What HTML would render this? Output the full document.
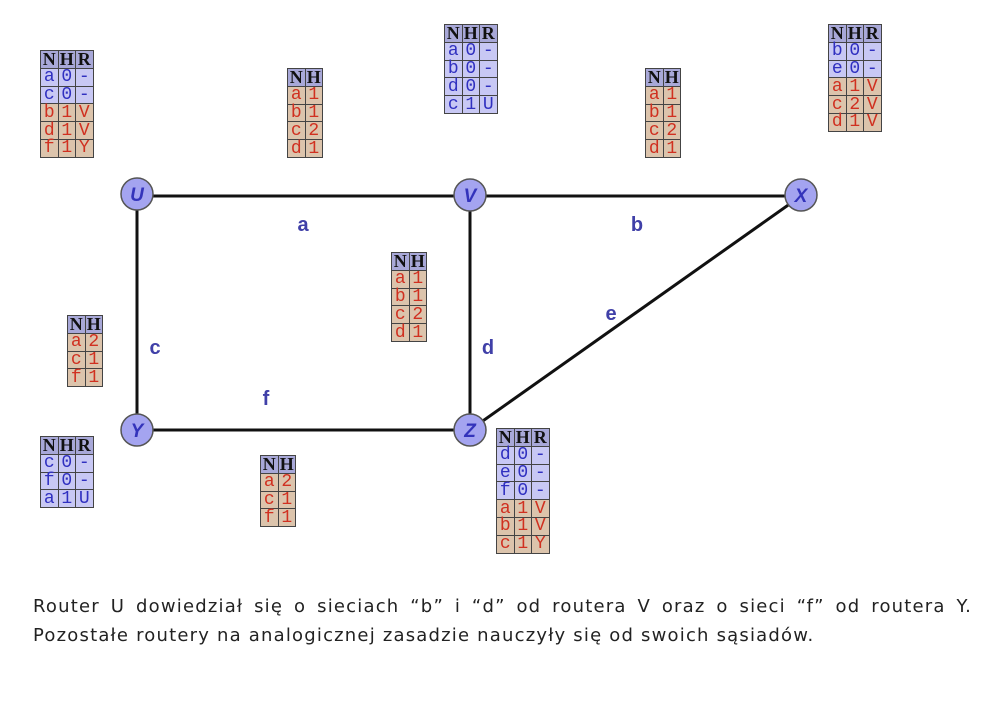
<!DOCTYPE html>
<html><head><meta charset="utf-8"><style>
body{margin:0;background:#fff;width:1000px;height:703px;position:relative;overflow:hidden;font-family:"Liberation Sans",sans-serif}
table{position:absolute;border-collapse:collapse;border:1px solid #555}
td{width:16.5px;height:16.8px;padding:0;border:1px solid #444;font-family:"Liberation Mono",monospace;font-size:18px;line-height:16px;text-align:center}
td.h{background:#a8a8d8;color:#111;font-weight:bold;font-family:"Liberation Serif",serif}
td.b{background:#c8c8f4;color:#3030c0}
td.r{background:#dcc4ac;color:#d03020}
.t{position:absolute;font-family:"DejaVu Sans",sans-serif;font-size:18px;color:#222;left:33px;letter-spacing:1.2px;white-space:nowrap}
</style></head><body>
<svg width="1000" height="703" style="position:absolute;left:0;top:0">
<g stroke="#111" stroke-width="3" fill="none">
<line x1="137" y1="196" x2="801" y2="196"/>
<line x1="137" y1="196" x2="137" y2="430"/>
<line x1="470" y1="196" x2="470" y2="430"/>
<line x1="137" y1="430" x2="470" y2="430"/>
<line x1="470" y1="430" x2="801" y2="196"/>
</g>
<g fill="#a4a4f0" stroke="#555" stroke-width="1.5">
<circle cx="137" cy="194" r="16"/><circle cx="470" cy="195" r="16"/><circle cx="801" cy="195" r="16"/>
<circle cx="137" cy="430" r="16"/><circle cx="470" cy="430" r="16"/>
</g>
<g font-family="Liberation Sans" font-style="italic" font-weight="bold" font-size="19" fill="#3333bb" text-anchor="middle">
<text x="137" y="201">U</text><text x="470" y="202">V</text><text x="801" y="202">X</text>
<text x="137" y="437">Y</text><text x="470" y="437">Z</text>
</g>
<g font-family="Liberation Sans" font-weight="bold" font-size="20" fill="#4040a8" text-anchor="middle">
<text x="303" y="231">a</text><text x="637" y="231">b</text><text x="155" y="354">c</text>
<text x="488" y="354">d</text><text x="611" y="320">e</text><text x="266" y="405">f</text>
</g>
</svg>
<table style="left:40px;top:50px"><tr><td class="h">N</td><td class="h">H</td><td class="h">R</td></tr>
<tr><td class="b">a</td><td class="b">0</td><td class="b">-</td></tr><tr><td class="b">c</td><td class="b">0</td><td class="b">-</td></tr>
<tr><td class="r">b</td><td class="r">1</td><td class="r">V</td></tr><tr><td class="r">d</td><td class="r">1</td><td class="r">V</td></tr><tr><td class="r">f</td><td class="r">1</td><td class="r">Y</td></tr></table>
<table style="left:287px;top:68px"><tr><td class="h">N</td><td class="h">H</td></tr>
<tr><td class="r">a</td><td class="r">1</td></tr><tr><td class="r">b</td><td class="r">1</td></tr><tr><td class="r">c</td><td class="r">2</td></tr><tr><td class="r">d</td><td class="r">1</td></tr></table>
<table style="left:444px;top:24px"><tr><td class="h">N</td><td class="h">H</td><td class="h">R</td></tr>
<tr><td class="b">a</td><td class="b">0</td><td class="b">-</td></tr><tr><td class="b">b</td><td class="b">0</td><td class="b">-</td></tr><tr><td class="b">d</td><td class="b">0</td><td class="b">-</td></tr><tr><td class="b">c</td><td class="b">1</td><td class="b">U</td></tr></table>
<table style="left:645px;top:68px"><tr><td class="h">N</td><td class="h">H</td></tr>
<tr><td class="r">a</td><td class="r">1</td></tr><tr><td class="r">b</td><td class="r">1</td></tr><tr><td class="r">c</td><td class="r">2</td></tr><tr><td class="r">d</td><td class="r">1</td></tr></table>
<table style="left:828px;top:24px"><tr><td class="h">N</td><td class="h">H</td><td class="h">R</td></tr>
<tr><td class="b">b</td><td class="b">0</td><td class="b">-</td></tr><tr><td class="b">e</td><td class="b">0</td><td class="b">-</td></tr>
<tr><td class="r">a</td><td class="r">1</td><td class="r">V</td></tr><tr><td class="r">c</td><td class="r">2</td><td class="r">V</td></tr><tr><td class="r">d</td><td class="r">1</td><td class="r">V</td></tr></table>
<table style="left:391px;top:252px"><tr><td class="h">N</td><td class="h">H</td></tr>
<tr><td class="r">a</td><td class="r">1</td></tr><tr><td class="r">b</td><td class="r">1</td></tr><tr><td class="r">c</td><td class="r">2</td></tr><tr><td class="r">d</td><td class="r">1</td></tr></table>
<table style="left:67px;top:315px"><tr><td class="h">N</td><td class="h">H</td></tr>
<tr><td class="r">a</td><td class="r">2</td></tr><tr><td class="r">c</td><td class="r">1</td></tr><tr><td class="r">f</td><td class="r">1</td></tr></table>
<table style="left:40px;top:436px"><tr><td class="h">N</td><td class="h">H</td><td class="h">R</td></tr>
<tr><td class="b">c</td><td class="b">0</td><td class="b">-</td></tr><tr><td class="b">f</td><td class="b">0</td><td class="b">-</td></tr><tr><td class="b">a</td><td class="b">1</td><td class="b">U</td></tr></table>
<table style="left:260px;top:455px"><tr><td class="h">N</td><td class="h">H</td></tr>
<tr><td class="r">a</td><td class="r">2</td></tr><tr><td class="r">c</td><td class="r">1</td></tr><tr><td class="r">f</td><td class="r">1</td></tr></table>
<table style="left:496px;top:428px"><tr><td class="h">N</td><td class="h">H</td><td class="h">R</td></tr>
<tr><td class="b">d</td><td class="b">0</td><td class="b">-</td></tr><tr><td class="b">e</td><td class="b">0</td><td class="b">-</td></tr><tr><td class="b">f</td><td class="b">0</td><td class="b">-</td></tr>
<tr><td class="r">a</td><td class="r">1</td><td class="r">V</td></tr><tr><td class="r">b</td><td class="r">1</td><td class="r">V</td></tr><tr><td class="r">c</td><td class="r">1</td><td class="r">Y</td></tr></table>
<div class="t" style="top:596px;width:939px;text-align:justify;text-align-last:justify;white-space:normal">Router U dowiedział się o sieciach “b” i “d” od routera V oraz o sieci “f” od routera Y.</div>
<div class="t" style="top:625px">Pozostałe routery na analogicznej zasadzie nauczyły się od swoich sąsiadów.</div>
</body></html>
